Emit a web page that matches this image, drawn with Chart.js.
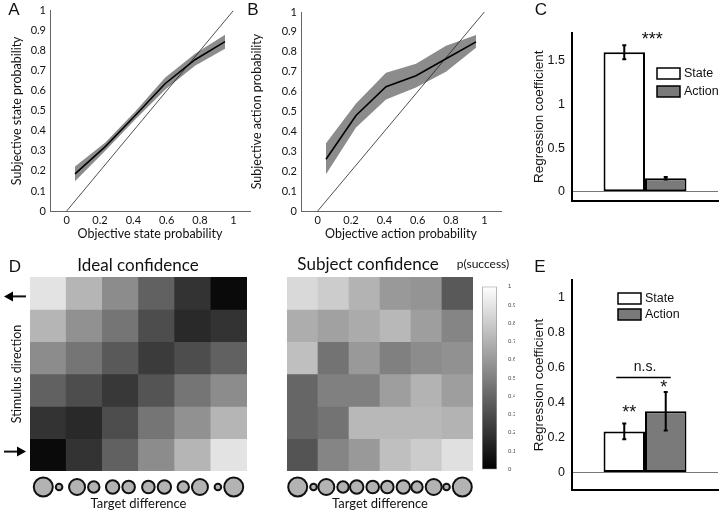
<!DOCTYPE html>
<html>
<head>
<meta charset="utf-8">
<script src="https://cdn.jsdelivr.net/npm/chart.js@4"></script>
<style>
  body { margin: 0; background: #fff; }
  #wrap { position: relative; width: 720px; height: 513px; overflow: hidden; font-family: Lato, sans-serif; color: #111; }
  canvas { position: absolute; }
  .lbl { position: absolute; white-space: nowrap; line-height: 1; transform: translate(-50%, -50%); }
  .panel { font-family: "Liberation Sans", Arial, sans-serif; font-size: 17px; }
</style>
</head>
<body>
<div id="wrap">
  <canvas id="chartA" width="252" height="245" style="left:0;top:0"></canvas>
  <canvas id="chartB" width="258" height="245" style="left:245px;top:0"></canvas>
  <canvas id="chartC" width="192" height="215" style="left:528px;top:0"></canvas>
  <canvas id="chartIdeal" width="249" height="242" style="left:0;top:271px"></canvas>
  <canvas id="chartSubject" width="218" height="242" style="left:257px;top:271px"></canvas>
  <canvas id="chartBar" width="33" height="196" style="left:482px;top:280px"></canvas>
  <canvas id="chartE" width="192" height="250" style="left:528px;top:258px"></canvas>

  <div class="lbl panel" style="left:14px;top:9px">A</div>
  <div class="lbl panel" style="left:253px;top:9px">B</div>
  <div class="lbl panel" style="left:541px;top:9px">C</div>
  <div class="lbl panel" style="left:15px;top:266px">D</div>
  <div class="lbl panel" style="left:540px;top:266px">E</div>
  <div class="lbl" style="left:138px;top:264px;font-size:17px">Ideal confidence</div>
  <div class="lbl" style="left:368px;top:263px;font-size:17px">Subject confidence</div>
  <div class="lbl" style="left:483px;top:264px;font-size:12px">p(success)</div>
</div>
<script>
// calibration curves (A, B)
const probBins = [0.05, 0.23, 0.41, 0.59, 0.77, 0.95];
const probTicks = [0, 0.2, 0.4, 0.6, 0.8, 1];
const diagonal = [0, 1];
const stateMean = [0.185, 0.32, 0.475, 0.635, 0.755, 0.845];
const stateLow = [0.148, 0.30, 0.455, 0.605, 0.725, 0.81];
const stateHigh = [0.222, 0.34, 0.495, 0.665, 0.785, 0.88];
const actionMean = [0.26, 0.48, 0.625, 0.68, 0.765, 0.85];
const actionLow = [0.185, 0.42, 0.56, 0.62, 0.70, 0.82];
const actionHigh = [0.34, 0.54, 0.695, 0.74, 0.83, 0.885];

// regression coefficients (C, E)
const groups = ['State', 'Action'];
const coefC = [1.6, 0.155];
const errC = [0.08, 0.015];
const ticksC = [0, 0.5, 1, 1.5];
const coefE = [0.235, 0.35];
const errE = [0.045, 0.11];
const ticksE = [0, 0.2, 0.4, 0.6, 0.8, 1];

// confidence maps (D), rows top to bottom
const targetCols = ['1', '2', '3', '4', '5', '6'];
const idealConf = [
  [0.89, 0.71, 0.55, 0.38, 0.20, 0.04],
  [0.71, 0.57, 0.46, 0.30, 0.16, 0.20],
  [0.55, 0.46, 0.35, 0.23, 0.30, 0.38],
  [0.38, 0.30, 0.22, 0.33, 0.46, 0.55],
  [0.20, 0.16, 0.30, 0.46, 0.57, 0.71],
  [0.04, 0.20, 0.38, 0.55, 0.71, 0.89]
];
const subjectConf = [
  [0.85, 0.80, 0.70, 0.60, 0.58, 0.35],
  [0.68, 0.63, 0.67, 0.72, 0.62, 0.52],
  [0.75, 0.45, 0.60, 0.50, 0.55, 0.57],
  [0.40, 0.50, 0.50, 0.62, 0.70, 0.62],
  [0.40, 0.45, 0.72, 0.72, 0.72, 0.70],
  [0.33, 0.52, 0.60, 0.75, 0.80, 0.88]
];
const circleLeft = [9.5, 8, 6.7, 6.3, 5.7, 3.3];
const circleRight = [3.3, 5.7, 6.3, 6.7, 8, 9.5];
const colorbarTicks = [0, 0.1, 0.2, 0.3, 0.4, 0.5, 0.6, 0.7, 0.8, 0.9, 1];

Chart.defaults.animation = false;
Chart.defaults.devicePixelRatio = 1;
Chart.defaults.responsive = false;
Chart.defaults.plugins.legend.display = false;
Chart.defaults.plugins.tooltip.enabled = false;
Chart.defaults.color = '#111';

const gillLike = 'Lato, sans-serif';
const helv = '"Liberation Sans", Arial, sans-serif';
const gray = v => { const g = Math.round(v * 255); return 'rgb(' + g + ',' + g + ',' + g + ')'; };
const setTicks = vals => s => { s.ticks = vals.map(v => ({ value: v })); };
const plain = v => String(Math.round(v * 100) / 100);

function probChart(id, mean, low, high, xTitle, yTitle, top, yWidth, yTitlePad) {
  const pts = arr => probBins.map((x, i) => ({ x: x, y: arr[i] }));
  return new Chart(document.getElementById(id), {
    type: 'line',
    data: {
      datasets: [
        { data: pts(high), borderWidth: 0, pointRadius: 0, fill: false, order: 3 },
        { data: pts(low), borderWidth: 0, pointRadius: 0, fill: '-1', backgroundColor: '#8c8c8c', order: 2 },
        { data: pts(mean), borderColor: '#000', borderWidth: 1.6, pointRadius: 0, fill: false, order: 0 },
        { data: diagonal.map(v => ({ x: v, y: v })), borderColor: '#222', borderWidth: 0.8, pointRadius: 0, fill: false, order: 1 }
      ]
    },
    options: {
      layout: { padding: { top: top, right: 2, left: 0, bottom: 0 } },
      scales: {
        x: {
          type: 'linear', min: -0.1, max: 1.1,
          afterBuildTicks: setTicks(probTicks),
          afterFit: s => { s.height = 34; },
          grid: { drawOnChartArea: false, drawTicks: false },
          border: { color: '#666', width: 1 },
          ticks: { font: { family: gillLike, size: 11 }, padding: 3, callback: plain },
          title: { display: true, text: xTitle, font: { family: gillLike, size: 12.5 }, padding: { top: 0, bottom: 4 } }
        },
        y: {
          min: 0, max: 1,
          ticks: { stepSize: 0.1, font: { family: gillLike, size: 11 }, padding: 4, callback: plain },
          afterFit: s => { s.width = yWidth; },
          grid: { drawOnChartArea: false, drawTicks: false },
          border: { color: '#666', width: 1 },
          title: { display: true, text: yTitle, font: { family: gillLike, size: 12.5 }, padding: { top: yTitlePad, bottom: 0 } }
        }
      }
    }
  });
}

probChart('chartA', stateMean, stateLow, stateHigh, 'Objective state probability', 'Subjective state probability', 7, 50, 9);
probChart('chartB', actionMean, actionLow, actionHigh, 'Objective action probability', 'Subjective action probability', 12, 56, 4);

function coefChart(id, vals, errs, ticks, yMax, opts) {
  const extras = {
    id: 'extras',
    afterDatasetsDraw(chart) {
      const { ctx, chartArea, scales: { y } } = chart;
      ctx.save();
      // error bars
      ctx.strokeStyle = '#000';
      ctx.lineWidth = 2;
      errs.forEach((e, i) => {
        const bar = chart.getDatasetMeta(i).data[0];
        const t = y.getPixelForValue(vals[i] + e), b = y.getPixelForValue(vals[i] - e);
        ctx.beginPath();
        ctx.moveTo(bar.x, t); ctx.lineTo(bar.x, b);
        ctx.moveTo(bar.x - 2, t); ctx.lineTo(bar.x + 2, t);
        ctx.moveTo(bar.x - 2, b); ctx.lineTo(bar.x + 2, b);
        ctx.stroke();
      });
      // legend
      ctx.lineWidth = 1.5;
      ctx.font = '12.5px ' + helv;
      ctx.textBaseline = 'middle';
      groups.forEach((g, i) => {
        const bx = chartArea.left + opts.legX, by = chartArea.top + opts.legY + i * opts.legStep;
        ctx.fillStyle = chart.data.datasets[i].backgroundColor;
        ctx.fillRect(bx, by, 23, 11);
        ctx.strokeRect(bx, by, 23, 11);
        ctx.fillStyle = '#111';
        ctx.fillText(g, bx + 27, by + 6);
      });
      // significance marks
      ctx.textAlign = 'center';
      opts.notes.forEach(n => {
        const bar = chart.getDatasetMeta(n.bar).data[0];
        ctx.font = n.size + 'px ' + helv;
        ctx.fillText(n.text, bar.x + n.dx, y.getPixelForValue(n.value));
      });
      if (opts.bracket) {
        const b0 = chart.getDatasetMeta(0).data[0], b1 = chart.getDatasetMeta(1).data[0];
        const yy = y.getPixelForValue(opts.bracket.value);
        ctx.lineWidth = 1.5;
        ctx.beginPath();
        ctx.moveTo(b0.x - 8, yy); ctx.lineTo(b1.x + 5, yy);
        ctx.stroke();
        ctx.font = '14px ' + helv;
        ctx.fillText(opts.bracket.text, (b0.x + b1.x) / 2, y.getPixelForValue(opts.bracket.textValue));
      }
      ctx.restore();
    }
  };
  return new Chart(document.getElementById(id), {
    type: 'bar',
    data: {
      labels: [''],
      datasets: groups.map((g, i) => ({
        label: g,
        data: [vals[i]],
        backgroundColor: i === 0 ? '#ffffff' : '#7a7a7a',
        borderColor: '#000',
        borderWidth: 2,
        borderSkipped: false,
        categoryPercentage: 0.568,
        barPercentage: 1
      }))
    },
    options: {
      layout: { padding: { top: opts.top, right: 2, left: 0, bottom: 0 } },
      scales: {
        x: {
          grid: { display: false },
          border: { color: '#000', width: 2 },
          ticks: { display: false },
          afterFit: s => { s.height = opts.xh; }
        },
        y: {
          min: -0.1, max: yMax,
          afterBuildTicks: setTicks(ticks),
          afterFit: s => { s.width = 44; },
          ticks: { font: { family: helv, size: 12.5 }, padding: 7, callback: plain },
          grid: { color: c => c.tick && c.tick.value === 0 ? '#777' : 'rgba(0,0,0,0)', drawTicks: false },
          border: { color: '#000', width: 2 },
          title: { display: true, text: 'Regression coefficient', font: { family: helv, size: 13.5 }, padding: { top: 3, bottom: 0 } }
        }
      }
    },
    plugins: [extras]
  });
}

coefChart('chartC', coefC, errC, ticksC, 1.82, {
  top: 33, xh: 14, legX: 85, legY: 35, legStep: 18,
  notes: [{ text: '***', bar: 0, dx: 28, value: 1.74, size: 18 }]
});
coefChart('chartE', coefE, errE, ticksE, 1.1, {
  top: 22, xh: 18, legX: 46, legY: 13, legStep: 16,
  notes: [
    { text: '**', bar: 0, dx: 5, value: 0.34, size: 18 },
    { text: '*', bar: 1, dx: -2, value: 0.485, size: 18 }
  ],
  bracket: { text: 'n.s.', value: 0.543, textValue: 0.6 }
});

function heatChart(id, grid, withAxis) {
  const marks = {
    id: 'marks',
    afterDraw(chart) {
      const { ctx, chartArea, scales: { x, y } } = chart;
      ctx.save();
      ctx.fillStyle = '#b3b3b3';
      ctx.strokeStyle = '#111';
      ctx.lineWidth = 2;
      const cy = chartArea.bottom + 16;
      targetCols.forEach((c, i) => {
        const cx = x.getPixelForValue(i);
        const rl = circleLeft[i], rr = circleRight[i];
        const start = cx - (2 * rl + 3 + 2 * rr) / 2;
        [[start + rl, rl], [start + 2 * rl + 3 + rr, rr]].forEach(([px, r]) => {
          ctx.beginPath();
          ctx.arc(px, cy, r, 0, Math.PI * 2);
          ctx.fill();
          ctx.stroke();
        });
      });
      if (withAxis) {
        ctx.fillStyle = '#000';
        const arrow = (yy, dir) => {
          const tip = dir < 0 ? 4 : 26, tail = dir < 0 ? 26 : 4;
          ctx.beginPath();
          ctx.moveTo(tail, yy); ctx.lineTo(tip - dir * 6, yy);
          ctx.stroke();
          ctx.beginPath();
          ctx.moveTo(tip, yy); ctx.lineTo(tip - dir * 9, yy - 5); ctx.lineTo(tip - dir * 9, yy + 5);
          ctx.closePath();
          ctx.fill();
        };
        arrow(y.getPixelForValue(0.6), -1);
        arrow(y.getPixelForValue(5.4), 1);
      }
      ctx.restore();
    }
  };
  return new Chart(document.getElementById(id), {
    type: 'bar',
    data: {
      labels: targetCols,
      datasets: grid.map(row => ({
        data: row.map(() => 1),
        backgroundColor: row.map(gray),
        borderWidth: 0,
        categoryPercentage: 1,
        barPercentage: 1
      }))
    },
    options: {
      layout: { padding: { top: 6, right: 2, left: 0, bottom: 0 } },
      scales: {
        x: {
          stacked: true,
          grid: { display: false },
          border: { display: false },
          ticks: { display: false },
          afterFit: s => { s.height = 42; },
          title: { display: true, text: 'Target difference', font: { family: gillLike, size: 13 }, padding: { top: 0, bottom: 1 } }
        },
        y: {
          stacked: true, reverse: true, min: 0, max: 6,
          display: withAxis,
          grid: { display: false },
          border: { display: false },
          ticks: { display: false },
          afterFit: s => { s.width = 30; },
          title: { display: true, text: 'Stimulus direction', font: { family: gillLike, size: 12.5 }, padding: { top: 9, bottom: 0 } }
        }
      }
    },
    plugins: [marks]
  });
}

heatChart('chartIdeal', idealConf, true);
heatChart('chartSubject', subjectConf, false);

new Chart(document.getElementById('chartBar'), {
  type: 'bar',
  data: {
    labels: [''],
    datasets: [{
      data: [[0, 1]],
      backgroundColor: ctx => {
        const area = ctx.chart.chartArea;
        if (!area) return '#888';
        const g = ctx.chart.ctx.createLinearGradient(0, area.bottom, 0, area.top);
        g.addColorStop(0, '#000');
        g.addColorStop(1, '#fff');
        return g;
      },
      borderColor: '#999',
      borderWidth: 1,
      borderSkipped: false,
      categoryPercentage: 1,
      barPercentage: 1
    }]
  },
  options: {
    layout: { padding: { top: 6, bottom: 6, left: 0, right: 0 } },
    scales: {
      x: { display: false },
      y: {
        position: 'right', min: 0, max: 1,
        afterBuildTicks: setTicks(colorbarTicks),
        afterFit: s => { s.width = 18; },
        grid: { display: false },
        border: { display: false },
        ticks: { font: { family: helv, size: 6 }, color: '#444', padding: 3, callback: plain }
      }
    }
  }
});
</script>
</body>
</html>
